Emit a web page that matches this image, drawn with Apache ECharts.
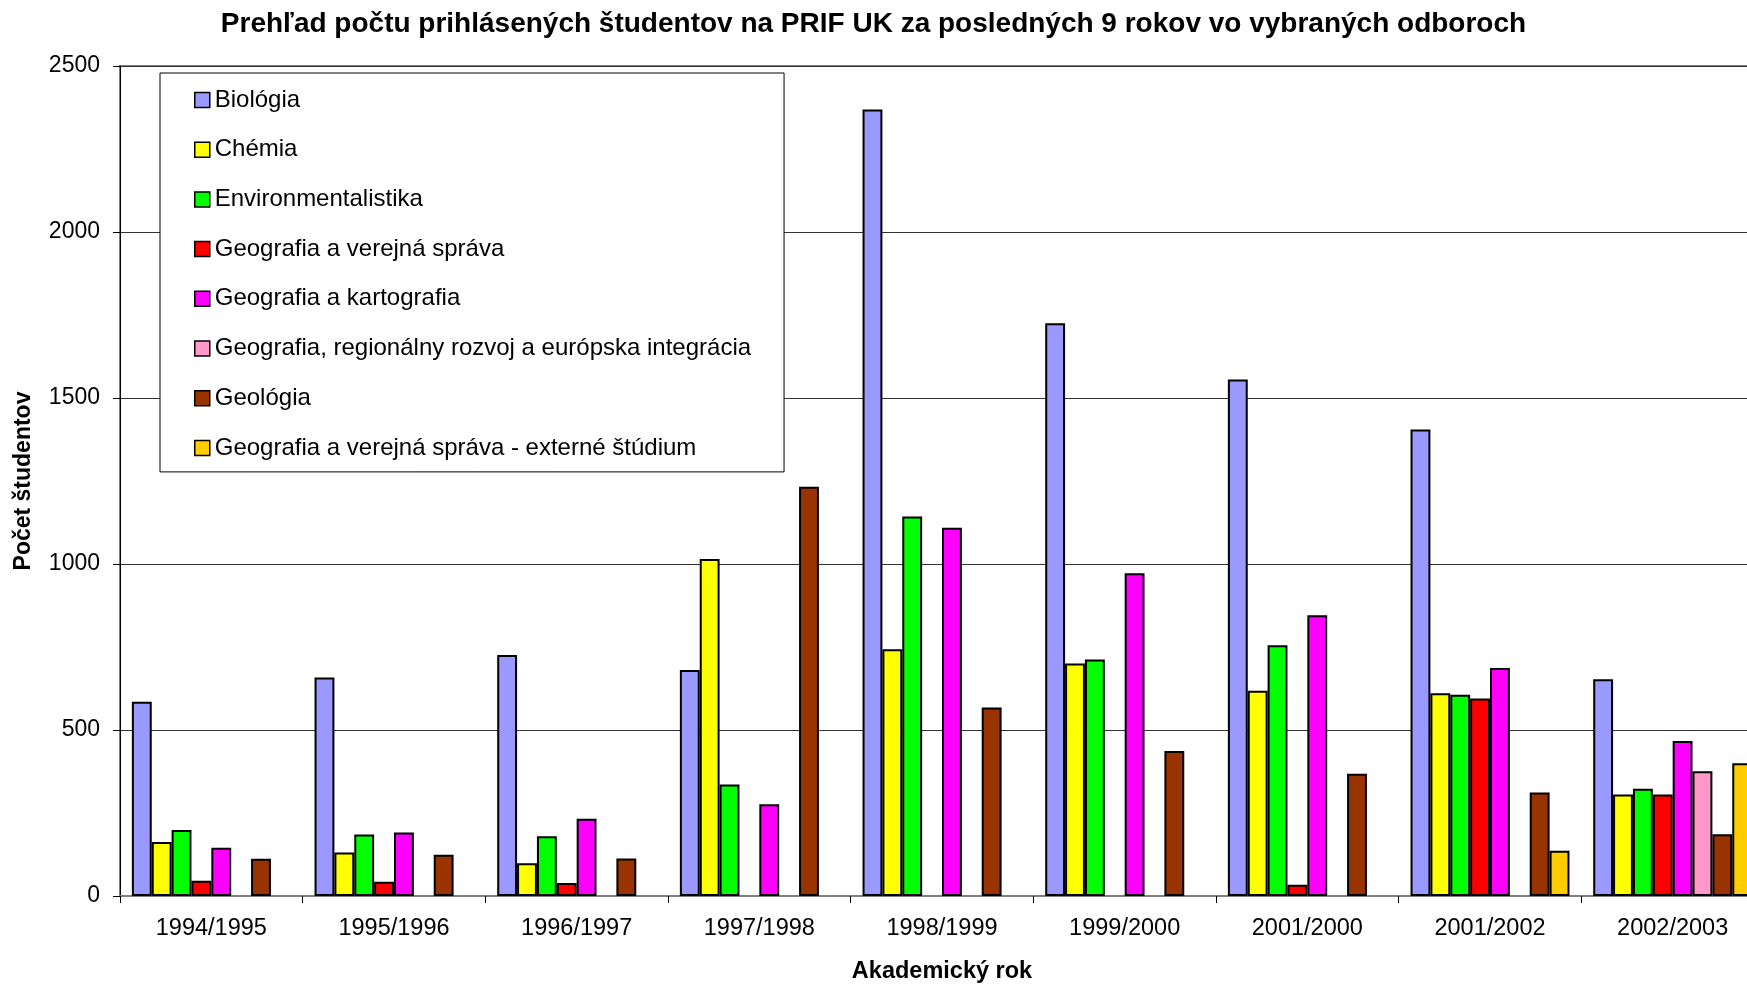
<!DOCTYPE html>
<html>
<head>
<meta charset="utf-8">
<title>PRIF UK</title>
<script src="https://cdn.jsdelivr.net/npm/echarts@6/dist/echarts.min.js"></script>
<style>
  html, body { margin: 0; padding: 0; background: #fff; }
  #chart { width: 1747px; height: 984px; }
</style>
</head>
<body>
<div id="chart"></div>
<script>
// akademicke roky (os x)
var roky = ['1994/1995', '1995/1996', '1996/1997', '1997/1998', '1998/1999', '1999/2000', '2001/2000', '2001/2002', '2002/2003'];

// pocty prihlasenych, null = odbor sa v danom roku neotvaral
var biologia      = [585, 658, 726, 681, 2369, 1725, 1556, 1405, 653];
var chemia        = [163, 131, 99, 1015, 743, 700, 618, 611, 306];
var environment   = [199, 185, 180, 336, 1143, 712, 755, 606, 323];
var geoVerejna    = [46, 43, 39, null, null, null, 34, 595, 306];
var geoKarto      = [145, 191, 233, 276, 1109, 972, 846, 687, 467];
var geoRegion     = [null, null, null, null, null, null, null, null, 376];
var geologia      = [112, 124, 113, 1233, 568, 437, 368, 312, 186];
var geoVerejnaExt = [null, null, null, null, null, null, null, 136, 400];

var yTicks = [0, 500, 1000, 1500, 2000, 2500];

var odbory = [
  { name: 'Biológia', data: biologia, color: '#9999FF' },
  { name: 'Chémia', data: chemia, color: '#FFFF00' },
  { name: 'Environmentalistika', data: environment, color: '#00FF00' },
  { name: 'Geografia a verejná správa', data: geoVerejna, color: '#FF0000' },
  { name: 'Geografia a kartografia', data: geoKarto, color: '#FF00FF' },
  { name: 'Geografia, regionálny rozvoj a európska integrácia', data: geoRegion, color: '#FF99CC' },
  { name: 'Geológia', data: geologia, color: '#993300' },
  { name: 'Geografia a verejná správa - externé štúdium', data: geoVerejnaExt, color: '#FFCC00' }
];

var font = '"Liberation Sans", Arial, sans-serif';

var myChart = echarts.init(document.getElementById('chart'));

let option = {
  animation: false,
  textStyle: { fontFamily: font },
  title: {
    text: 'Prehľad počtu prihlásených študentov na PRIF UK za posledných 9 rokov vo vybraných odboroch',
    left: 'center',
    top: 10,
    padding: 0,
    textStyle: { fontFamily: font, fontSize: 28, fontWeight: 'bold', color: '#000' }
  },
  legend: {
    orient: 'vertical',
    left: 160,
    top: 73,
    padding: [15, 33, 12, 34],
    itemGap: 25.7,
    itemWidth: 15,
    itemHeight: 15,
    icon: 'rect',
    backgroundColor: '#fff',
    borderColor: '#000',
    borderWidth: 1,
    borderRadius: 0,
    itemStyle: { borderColor: '#000', borderWidth: 1.5 },
    textStyle: { fontFamily: font, fontSize: 24, color: '#000' },
    data: odbory.map(function (o) { return o.name; })
  },
  // posledna kategoria v originali presahuje okraj obrazka
  grid: {
    left: 120,
    width: 1644,
    top: 66,
    bottom: 88,
    outerBoundsMode: 'none',
    show: true,
    borderColor: '#808080',
    borderWidth: 2,
    containLabel: false
  },
  xAxis: {
    type: 'category',
    data: roky,
    name: 'Akademický rok',
    nameLocation: 'middle',
    nameGap: 64,
    nameTextStyle: { fontFamily: font, fontSize: 23.5, fontWeight: 'bold', color: '#000' },
    axisLine: { lineStyle: { color: '#808080', width: 2 } },
    axisTick: { show: true, length: 7, lineStyle: { color: '#000', width: 1 } },
    axisLabel: { margin: 21, fontFamily: font, fontSize: 23.5, color: '#000' }
  },
  yAxis: {
    type: 'value',
    min: yTicks[0],
    max: yTicks[yTicks.length - 1],
    interval: yTicks[1] - yTicks[0],
    name: 'Počet študentov',
    nameLocation: 'middle',
    nameGap: 85,
    nameTextStyle: { fontFamily: font, fontSize: 23, fontWeight: 'bold', color: '#000' },
    axisLine: { show: true, lineStyle: { color: '#000', width: 1 } },
    axisTick: { show: true, length: 7, lineStyle: { color: '#000' } },
    axisLabel: {
      margin: 20, fontFamily: font, fontSize: 23, color: '#000',
      formatter: function (v) { return String(v); }
    },
    splitLine: { lineStyle: { color: '#333', width: 1 } }
  },
  series: odbory.map(function (o) {
    return {
      name: o.name,
      type: 'bar',
      data: o.data,
      barGap: '0%',
      barCategoryGap: '13%',
      itemStyle: { color: o.color, borderColor: '#000', borderWidth: 2 }
    };
  })
};

myChart.setOption(option);
window.addEventListener('resize', function () {
  myChart.resize();
});
</script>
</body>
</html>
